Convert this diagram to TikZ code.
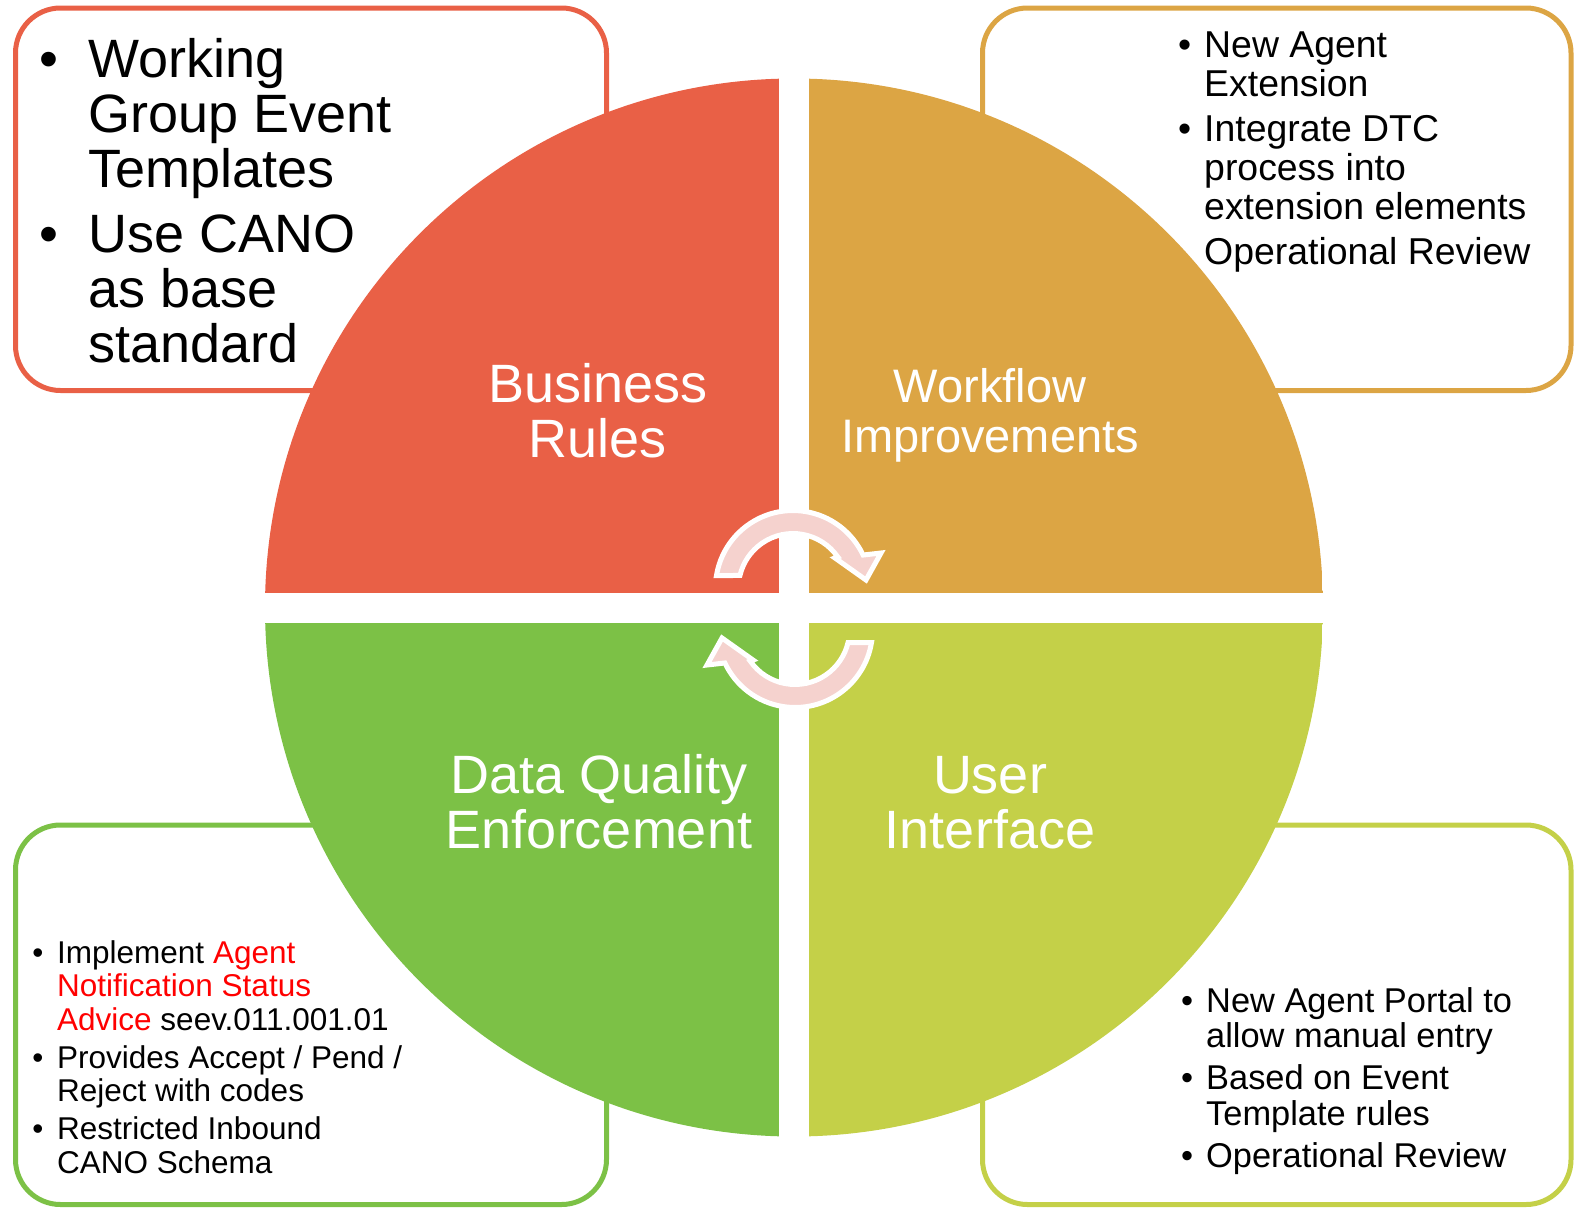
\documentclass[tikz,border=0pt]{standalone}
\usepackage{fontspec}
\setmainfont{Liberation Sans}
\definecolor{cRed}{RGB}{233,96,70}
\definecolor{cOrange}{RGB}{220,165,68}
\definecolor{cGreen}{RGB}{124,193,70}
\definecolor{cLime}{RGB}{196,208,72}
\definecolor{cPink}{RGB}{245,210,206}
\definecolor{txtRed}{RGB}{255,0,0}

% bullet paragraph with hanging indent: #1 indent, #2 text
\newcommand\bpar[2]{\hangindent=#1\hangafter=1\noindent\makebox[#1][l]{\textbullet}#2\par}
\newcommand\setsize[2]{\fontsize{#1}{#2}\selectfont}

\begin{document}
\begin{tikzpicture}[x=1pt,y=-1pt,
  panel/.style={line width=5pt, rounded corners=45pt, fill=white},
  lbl/.style={text=white, inner sep=0pt, anchor=base},
  note/.style={inner sep=0pt, anchor=base west, text=black},
  turn/.style={fill=cPink, draw=white, line width=5pt, line join=miter},
  turnarrow/.pic={
    \path[turn] (716.5,575.5) arc[start angle=189.3, end angle=334.8, radius=77.5]
      -- (881,553) -- (866,580) -- (835,558) -- (837.8,557)
      arc[start angle=325.3, end angle=193.3, radius=54.5] -- cycle;
  }]
\useasboundingbox (0,0) rectangle (1575,1208);

% outlined panels behind the wheel
\draw[panel, draw=cRed]    (15.5,8)    rectangle (606.5,390.5);
\draw[panel, draw=cOrange] (982.5,8)   rectangle (1571,390.5);
\draw[panel, draw=cGreen]  (15.5,825)  rectangle (606.5,1204.5);
\draw[panel, draw=cLime]   (982.5,825) rectangle (1571,1204.5);

% the wheel: a disc split into four quarters by a white cross
\begin{scope}
  \clip (794,607.5) circle[radius=529];
  \fill[cRed]    (265,78)     rectangle (779,592.5);
  \fill[cOrange] (809,78)     rectangle (1323,592.5);
  \fill[cGreen]  (265,622.5)  rectangle (779,1137);
  \fill[cLime]   (809,622.5)  rectangle (1323,1137);
\end{scope}

% quarter titles
\node[lbl] (business) at (598,402)
  {\parbox[t]{400pt}{\centering\setsize{54pt}{55pt}Business\\Rules}};
\node[lbl] (workflow) at (990,402)
  {\parbox[t]{400pt}{\centering\setsize{47pt}{50pt}Workflow\\Improvements}};
\node[lbl] (dataq) at (599,793)
  {\parbox[t]{400pt}{\centering\setsize{54pt}{55pt}Data Quality\\Enforcement}};
\node[lbl] (ui) at (990,793)
  {\parbox[t]{400pt}{\centering\setsize{54pt}{55pt}User\\Interface}};

% circular arrows in the middle
\pic (cwtop) {turnarrow};
\pic[rotate around={180:(794,609)}] (cwbottom) {turnarrow};

% panel notes
\node[note] (notesTL) at (38.8,77) {\parbox[t]{560pt}{\setsize{54pt}{55pt}%
  \bpar{49.2pt}{Working\\Group Event\\Templates}%
  \vspace{10pt}%
  \bpar{49.2pt}{Use CANO\\as base\\standard}}};

\node[note] (notesTR) at (1178,57) {\parbox[t]{380pt}{\setsize{37.4pt}{39pt}%
  \bpar{26pt}{New Agent\\Extension}%
  \vspace{6pt}%
  \bpar{26pt}{Integrate DTC\\process into\\extension elements}%
  \vspace{6pt}%
  \noindent\hspace*{26pt}Operational Review\par}};

\node[note] (notesBL) at (32.2,963) {\parbox[t]{520pt}{\setsize{31.5pt}{33.5pt}%
  \bpar{24.8pt}{Implement \textcolor{txtRed}{Agent\\Notification Status\\Advice} seev.011.001.01}%
  \vspace{4.5pt}%
  \bpar{24.8pt}{Provides Accept / Pend /\\Reject with codes}%
  \vspace{4.5pt}%
  \bpar{24.8pt}{Restricted Inbound\\CANO Schema}}};

\node[note] (notesBR) at (1181,1012) {\parbox[t]{380pt}{\setsize{34.4pt}{35.5pt}%
  \bpar{25pt}{New Agent Portal to\\allow manual entry}%
  \vspace{6.5pt}%
  \bpar{25pt}{Based on Event\\Template rules}%
  \vspace{6.5pt}%
  \bpar{25pt}{Operational Review}}};
\end{tikzpicture}
\end{document}
